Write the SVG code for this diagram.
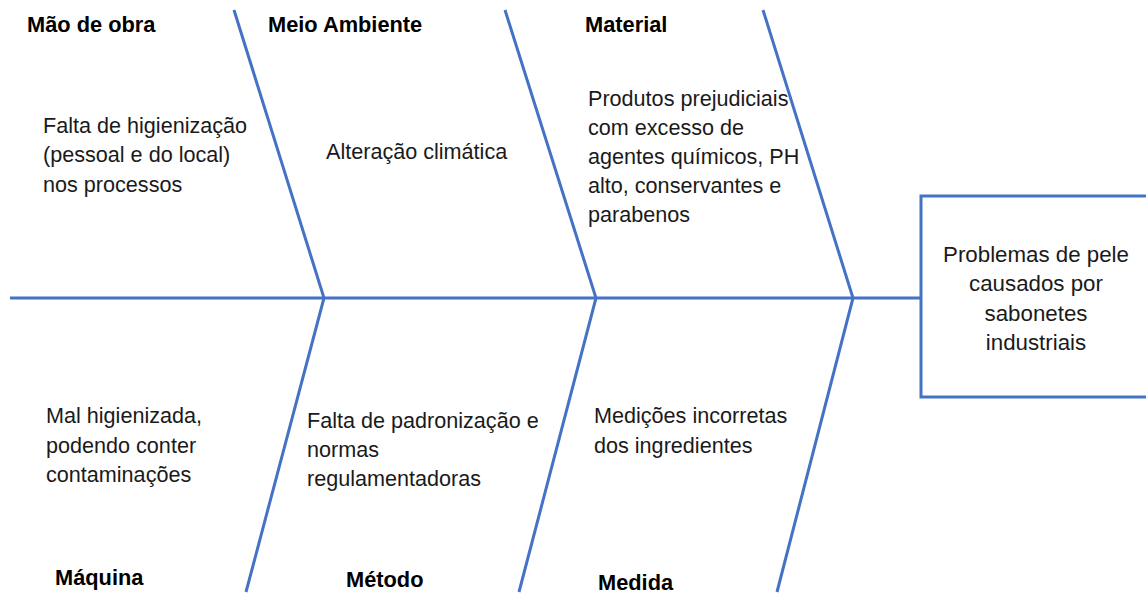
<svg xmlns="http://www.w3.org/2000/svg" width="1146" height="594" viewBox="0 0 1146 594">
<style>
.ln{stroke:#4472C4;stroke-width:3;fill:none;stroke-linejoin:miter}
.lbl{font-family:"Liberation Sans",Arial,sans-serif;font-weight:bold;font-size:21.8px;fill:#000}
.txt{font-family:"Liberation Sans",Arial,sans-serif;font-size:21.6px;fill:#1a1a1a}
.big{font-size:22.3px}
.ctr{text-anchor:middle}
</style>
<rect width="1146" height="594" fill="#fff"/>
<g id="connectors">
<line class="ln" x1="10" y1="298" x2="921" y2="298"/>
<polyline class="ln" points="234,10 324,298 246,592"/>
<polyline class="ln" points="505,10 596,298 519,592"/>
<polyline class="ln" points="763,10 853,298 777,592"/>
</g>
<g id="effect">
<rect class="ln" x="921" y="196" width="240" height="201"/>
<text class="txt big ctr" x="1036"><tspan x="1036" y="262">Problemas de pele</tspan><tspan x="1036" y="291">causados por</tspan><tspan x="1036" y="321">sabonetes</tspan><tspan x="1036" y="350">industriais</tspan></text>
</g>
<g id="mao-de-obra">
<text class="lbl" x="27" y="32">Mão de obra</text>
<text class="txt"><tspan x="43" y="133">Falta de higienização</tspan><tspan x="43" y="162">(pessoal e do local)</tspan><tspan x="43" y="192">nos processos</tspan></text>
</g>
<g id="meio-ambiente">
<text class="lbl" x="268" y="32">Meio Ambiente</text>
<text class="txt" x="326" y="159">Alteração climática</text>
</g>
<g id="material">
<text class="lbl" x="585" y="32">Material</text>
<text class="txt"><tspan x="588" y="106">Produtos prejudiciais</tspan><tspan x="588" y="135">com excesso de</tspan><tspan x="588" y="164">agentes químicos, PH</tspan><tspan x="588" y="193">alto, conservantes e</tspan><tspan x="588" y="222">parabenos</tspan></text>
</g>
<g id="maquina">
<text class="lbl" x="55" y="585">Máquina</text>
<text class="txt"><tspan x="46" y="423">Mal higienizada,</tspan><tspan x="46" y="453">podendo conter</tspan><tspan x="46" y="482">contaminações</tspan></text>
</g>
<g id="metodo">
<text class="lbl" x="346" y="587">Método</text>
<text class="txt"><tspan x="307" y="428">Falta de padronização e</tspan><tspan x="307" y="457">normas</tspan><tspan x="307" y="486">regulamentadoras</tspan></text>
</g>
<g id="medida">
<text class="lbl" x="598" y="590">Medida</text>
<text class="txt"><tspan x="594" y="423">Medições incorretas</tspan><tspan x="594" y="453">dos ingredientes</tspan></text>
</g>
</svg>
